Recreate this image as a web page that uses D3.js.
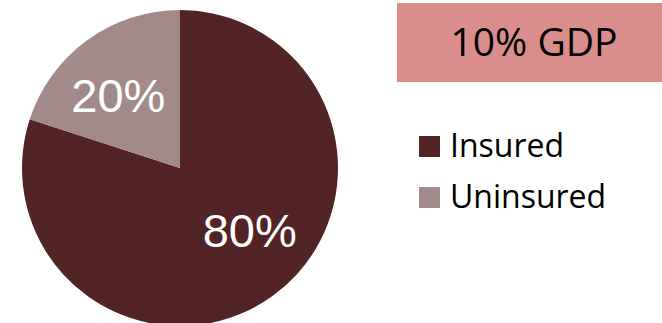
<!DOCTYPE html>
<html>
<head>
<meta charset="utf-8">
<script src="https://cdn.jsdelivr.net/npm/d3@7"></script>
<style>
  body { margin: 0; background: #fff; }
</style>
</head>
<body>
<script>
const width = 662;
const height = 323;

// data
const categories = ["Insured", "Uninsured"];
const shares = [80, 20];
const sliceColors = ["#532425", "#a38a8a"];
const titleText = "10% GDP";

const cx = 180;
const cy = 168;
const radius = 158;

let svg = d3.select("body")
    .append("svg")
    .attr("width", width)
    .attr("height", height);

const data = categories.map((c, i) => ({ name: c, value: shares[i], color: sliceColors[i] }));

let pie = d3.pie()
    .sort(null)
    .value(d => d.value);

let arc = d3.arc()
    .innerRadius(0)
    .outerRadius(radius);

let labelArc = d3.arc()
    .innerRadius(0)
    .outerRadius(radius * 1.2);

let g = svg.append("g")
    .attr("transform", `translate(${cx},${cy})`);

let arcs = pie(data);

g.selectAll("path")
    .data(arcs)
    .enter()
    .append("path")
    .attr("d", arc)
    .attr("fill", d => d.data.color);

// percent labels, nudged a little like the original
const labelNudge = [[14, -14], [-6, 4]];
g.selectAll("text")
    .data(arcs)
    .enter()
    .append("text")
    .attr("x", (d, i) => labelArc.centroid(d)[0] + labelNudge[i][0])
    .attr("y", (d, i) => labelArc.centroid(d)[1] + labelNudge[i][1])
    .attr("text-anchor", "middle")
    .attr("dominant-baseline", "central")
    .attr("font-family", "'Liberation Sans', Arial, sans-serif")
    .attr("font-size", 47)
    .attr("fill", "#fff")
    .text(d => d.data.value + "%");

// title box
svg.append("rect")
    .attr("x", 397)
    .attr("y", 3)
    .attr("width", 265)
    .attr("height", 79)
    .attr("fill", "#d98e8c");

svg.append("text")
    .attr("x", 534)
    .attr("y", 56)
    .attr("text-anchor", "middle")
    .attr("font-family", "'Open Sans', sans-serif")
    .attr("font-size", 39)
    .attr("fill", "#000")
    .text(titleText);

// legend
let legend = svg.append("g")
    .attr("transform", "translate(419,136)");

let item = legend.selectAll("g")
    .data(data)
    .enter()
    .append("g")
    .attr("transform", (d, i) => `translate(0,${i * 51})`);

item.append("rect")
    .attr("width", 21)
    .attr("height", 21)
    .attr("fill", d => d.color);

item.append("text")
    .attr("x", 31)
    .attr("y", 21)
    .attr("font-family", "'Open Sans', sans-serif")
    .attr("font-size", 32)
    .attr("fill", "#000")
    .text(d => d.name);
</script>
</body>
</html>
